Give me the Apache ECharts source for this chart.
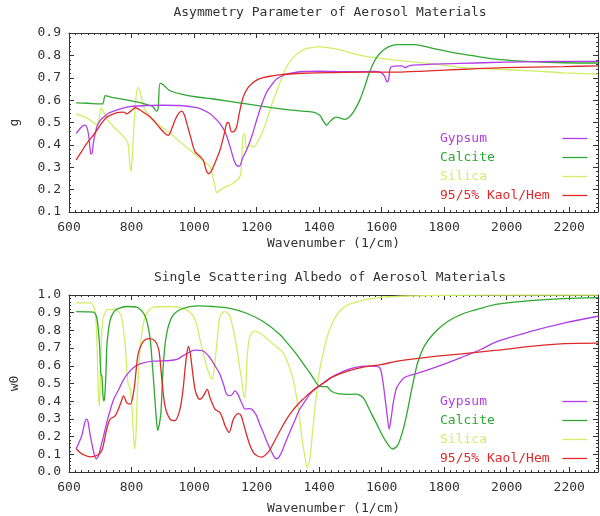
<!DOCTYPE html>
<html><head><meta charset="utf-8">
<script src="https://cdn.jsdelivr.net/npm/echarts@6/dist/echarts.min.js"></script>
<style>html,body{margin:0;padding:0;background:#fff}#c{width:600px;height:516px}</style>
</head><body><div id="c"></div>
<script>
// ---------- DATA ----------
const seriesNames = ['Gypsum', 'Calcite', 'Silica', '95/5% Kaol/Hem'];
const xTickLabels = [600, 800, 1000, 1200, 1400, 1600, 1800, 2000, 2200];
const gTickLabels = [0.1, 0.2, 0.3, 0.4, 0.5, 0.6, 0.7, 0.8, 0.9];
const wTickLabels = [0.0, 0.1, 0.2, 0.3, 0.4, 0.5, 0.6, 0.7, 0.8, 0.9, 1.0];

// Asymmetry parameter g
const gypsumG_x = [623,640,650,658,664,669,673,678,689,700,711,725,743,770,796,849,900,955,1009,1030,1051,1070,1083,1100,1115,1128,1136,1145,1155,1168,1185,1200,1215,1232,1250,1264,1285,1306,1349,1400,1445,1500,1577,1600,1610,1617,1622,1628,1640,1665,1675,1685,1700,1800,1900,2000,2100,2200,2292];
const gypsumG_y = [0.451,0.48,0.488,0.475,0.43,0.362,0.36,0.41,0.48,0.51,0.524,0.54,0.551,0.563,0.571,0.576,0.577,0.576,0.566,0.555,0.539,0.515,0.495,0.455,0.392,0.33,0.308,0.305,0.34,0.377,0.44,0.51,0.575,0.635,0.672,0.694,0.71,0.719,0.728,0.729,0.728,0.727,0.728,0.722,0.705,0.682,0.69,0.745,0.752,0.753,0.745,0.752,0.756,0.762,0.766,0.77,0.772,0.773,0.773];

const calciteG_x = [623,660,700,708,716,730,760,796,830,860,870,880,885,891,900,923,966,1010,1062,1120,1168,1220,1275,1330,1381,1402,1412,1424,1435,1454,1468,1481,1497,1513,1530,1545,1560,1577,1592,1608,1630,1651,1704,1757,1810,1864,1920,1970,2077,2183,2292];
const calciteG_y = [0.588,0.586,0.583,0.583,0.62,0.615,0.607,0.598,0.588,0.576,0.568,0.55,0.56,0.675,0.67,0.642,0.625,0.614,0.605,0.593,0.583,0.572,0.561,0.553,0.546,0.532,0.51,0.488,0.505,0.524,0.52,0.514,0.525,0.554,0.6,0.657,0.72,0.775,0.805,0.826,0.842,0.848,0.848,0.834,0.818,0.804,0.792,0.782,0.772,0.767,0.766];

const silicaG_x = [623,650,668,689,697,703,710,721,743,775,788,793,798,803,809,815,820,826,835,844,870,920,980,1030,1051,1062,1074,1085,1100,1126,1147,1152,1157,1162,1168,1179,1190,1200,1221,1237,1253,1270,1285,1300,1317,1335,1349,1370,1400,1445,1545,1651,1757,1864,1970,2077,2183,2292];
const silicaG_y = [0.539,0.525,0.51,0.49,0.52,0.566,0.55,0.517,0.48,0.436,0.41,0.34,0.28,0.36,0.52,0.62,0.657,0.645,0.59,0.554,0.51,0.455,0.385,0.327,0.303,0.245,0.186,0.2,0.212,0.23,0.26,0.33,0.443,0.45,0.385,0.399,0.39,0.405,0.465,0.53,0.598,0.66,0.716,0.758,0.79,0.812,0.826,0.834,0.838,0.831,0.797,0.778,0.763,0.745,0.738,0.731,0.722,0.716];

const kaolG_x = [623,640,657,673,689,705,721,743,760,775,785,798,812,825,838,855,870,885,902,918,928,939,950,961,970,977,990,1003,1019,1030,1038,1046,1054,1062,1083,1095,1104,1110,1120,1128,1136,1146,1157,1172,1189,1205,1221,1250,1275,1328,1445,1550,1650,1736,1864,1991,2183,2292];
const kaolG_y = [0.333,0.37,0.407,0.435,0.465,0.498,0.524,0.539,0.545,0.546,0.539,0.552,0.566,0.558,0.546,0.53,0.51,0.485,0.458,0.443,0.47,0.51,0.54,0.551,0.53,0.495,0.43,0.37,0.348,0.33,0.29,0.271,0.28,0.303,0.377,0.44,0.495,0.5,0.458,0.46,0.48,0.55,0.613,0.655,0.679,0.693,0.701,0.708,0.713,0.719,0.723,0.725,0.725,0.73,0.738,0.745,0.75,0.753];

// Single scattering albedo w0
const gypsumW_x = [623,641,648,655,660,668,679,687,694,700,710,721,732,743,760,775,790,806,820,838,870,923,945,960,977,1003,1030,1051,1067,1083,1095,1104,1112,1120,1131,1140,1147,1155,1163,1175,1184,1192,1200,1210,1221,1232,1243,1252,1262,1272,1280,1292,1306,1322,1338,1355,1370,1385,1402,1420,1438,1460,1491,1520,1545,1580,1594,1603,1610,1617,1624,1630,1637,1645,1651,1672,1700,1736,1811,1864,1917,1970,2077,2183,2292];
const gypsumW_y = [0.131,0.206,0.26,0.299,0.29,0.206,0.112,0.075,0.09,0.131,0.2,0.28,0.35,0.411,0.47,0.523,0.56,0.589,0.605,0.617,0.626,0.63,0.636,0.652,0.669,0.688,0.682,0.645,0.6,0.551,0.49,0.439,0.432,0.434,0.458,0.44,0.411,0.38,0.355,0.358,0.355,0.34,0.318,0.27,0.224,0.175,0.131,0.1,0.075,0.085,0.112,0.165,0.224,0.29,0.355,0.4,0.439,0.465,0.486,0.512,0.533,0.555,0.579,0.592,0.598,0.597,0.59,0.523,0.43,0.33,0.243,0.3,0.39,0.46,0.486,0.533,0.55,0.57,0.617,0.654,0.692,0.738,0.794,0.841,0.88];

const calciteW_x = [623,660,679,689,695,698,702,705,708,711,714,718,721,726,732,742,753,785,817,835,844,852,860,866,872,878,884,889,894,898,902,908,915,925,934,950,966,1009,1062,1115,1168,1221,1275,1300,1328,1350,1370,1385,1397,1410,1424,1438,1460,1502,1520,1534,1545,1555,1570,1587,1603,1619,1635,1651,1662,1672,1683,1694,1705,1715,1736,1768,1811,1864,1917,1970,2077,2183,2292];
const calciteW_y = [0.906,0.905,0.903,0.87,0.78,0.71,0.55,0.545,0.45,0.402,0.42,0.55,0.71,0.8,0.86,0.9,0.92,0.935,0.931,0.905,0.879,0.83,0.748,0.62,0.48,0.33,0.234,0.27,0.336,0.48,0.617,0.73,0.804,0.86,0.888,0.912,0.925,0.938,0.935,0.925,0.897,0.85,0.776,0.725,0.664,0.61,0.561,0.52,0.49,0.482,0.482,0.458,0.443,0.439,0.44,0.43,0.41,0.374,0.32,0.262,0.205,0.159,0.13,0.15,0.2,0.262,0.35,0.449,0.54,0.617,0.71,0.785,0.85,0.897,0.925,0.948,0.968,0.979,0.985];

const silicaW_x = [623,668,680,686,690,694,697,700,704,708,715,721,743,760,770,780,786,790,795,800,805,810,814,817,822,828,836,844,856,870,923,966,985,998,1010,1019,1030,1040,1050,1058,1064,1072,1078,1083,1091,1099,1108,1115,1126,1136,1145,1152,1158,1162,1166,1170,1176,1184,1195,1215,1243,1265,1285,1300,1317,1328,1338,1346,1354,1362,1370,1375,1382,1391,1400,1413,1425,1438,1460,1491,1545,1598,1700,1800,2060,2292];
const silicaW_y = [0.955,0.955,0.93,0.86,0.7,0.45,0.37,0.5,0.75,0.86,0.9,0.916,0.92,0.905,0.86,0.71,0.55,0.49,0.48,0.4,0.25,0.131,0.2,0.374,0.55,0.71,0.82,0.879,0.915,0.93,0.935,0.925,0.905,0.879,0.82,0.748,0.67,0.598,0.545,0.525,0.58,0.71,0.82,0.879,0.9,0.906,0.895,0.879,0.8,0.71,0.6,0.523,0.44,0.42,0.5,0.65,0.75,0.785,0.796,0.78,0.738,0.705,0.673,0.615,0.523,0.42,0.299,0.18,0.093,0.025,0.07,0.15,0.28,0.43,0.56,0.673,0.76,0.822,0.897,0.944,0.972,0.987,0.995,0.998,1.0,1.0];

const kaolW_x = [623,635,647,668,689,705,716,725,732,748,764,775,785,796,808,815,822,838,857,876,887,893,897,907,923,939,955,965,971,977,982,988,993,1003,1012,1019,1030,1042,1051,1060,1067,1075,1083,1092,1099,1112,1126,1142,1150,1157,1168,1179,1190,1200,1216,1237,1250,1264,1280,1296,1312,1328,1345,1360,1392,1424,1438,1491,1545,1598,1651,1757,1864,1970,2077,2183,2292];
const kaolW_y = [0.131,0.11,0.097,0.086,0.093,0.121,0.206,0.27,0.299,0.318,0.383,0.43,0.39,0.383,0.467,0.58,0.673,0.738,0.753,0.738,0.692,0.6,0.523,0.374,0.299,0.29,0.355,0.47,0.579,0.67,0.71,0.67,0.598,0.467,0.42,0.411,0.43,0.467,0.42,0.38,0.355,0.345,0.336,0.3,0.262,0.224,0.299,0.33,0.32,0.28,0.21,0.15,0.11,0.093,0.084,0.112,0.15,0.196,0.25,0.299,0.34,0.374,0.405,0.43,0.477,0.514,0.533,0.57,0.594,0.607,0.626,0.65,0.669,0.688,0.71,0.725,0.728];

// ---------- CHART ----------
const colors = ['#b23fe6', '#2ea82e', '#d2ee68', '#de2a2a'];
const FONT = '"DejaVu Sans Mono", "Liberation Mono", monospace';
const zip = (xs, ys) => xs.map((x, i) => [x, ys[i]]);

const XMIN = xTickLabels[0], XMAX = 2292;

function xAxisDef(grid, pos, nameGap) {
  const main = pos === 'bottom';
  return {
    type: 'value', gridIndex: grid, position: pos, min: XMIN, max: XMAX, interval: 200,
    name: main ? 'Wavenumber (1/cm)' : '', nameLocation: 'middle', nameGap: nameGap,
    nameTextStyle: { fontFamily: FONT, fontSize: 13, color: '#333' },
    axisLine: { show: true, onZero: false, lineStyle: { color: '#333', width: 1 } },
    axisTick: { show: true, inside: true, length: 5, lineStyle: { color: '#333' } },
    minorTick: { show: true, splitNumber: 10, length: 2, lineStyle: { color: '#333' } },
    axisLabel: { show: main, margin: 9, showMaxLabel: false, fontFamily: FONT, fontSize: 13, color: '#333',
      formatter: v => xTickLabels.includes(v) ? String(v) : '' },
    splitLine: { show: false }, minorSplitLine: { show: false }
  };
}
function yAxisDef(grid, pos, min, max, name) {
  const main = pos === 'left';
  return {
    type: 'value', gridIndex: grid, position: pos, min: min, max: max, interval: 0.1,
    name: main ? name : '', nameLocation: 'middle', nameRotate: 90, nameGap: 48,
    nameTextStyle: { fontFamily: FONT, fontSize: 13, color: '#333' },
    axisLine: { show: true, onZero: false, lineStyle: { color: '#333', width: 1 } },
    axisTick: { show: true, inside: true, length: 5, lineStyle: { color: '#333' } },
    minorTick: { show: true, splitNumber: 5, length: 2, lineStyle: { color: '#333' } },
    axisLabel: { show: main, margin: 8, fontFamily: FONT, fontSize: 13, color: '#333',
      formatter: v => v.toFixed(1) },
    splitLine: { show: false }, minorSplitLine: { show: false }
  };
}

const topData = [zip(gypsumG_x, gypsumG_y), zip(calciteG_x, calciteG_y), zip(silicaG_x, silicaG_y), zip(kaolG_x, kaolG_y)];
const botData = [zip(gypsumW_x, gypsumW_y), zip(calciteW_x, calciteW_y), zip(silicaW_x, silicaW_y), zip(kaolW_x, kaolW_y)];

const series = [];
const order = [2, 1, 0, 3];
order.forEach(i => {
  series.push({ type: 'line', name: seriesNames[i], xAxisIndex: 0, yAxisIndex: 0, data: topData[i],
    symbol: 'none', smooth: 0.3, lineStyle: { width: 1.3, color: colors[i] }, itemStyle: { color: colors[i] }, z: 3 });
});
order.forEach(i => {
  series.push({ type: 'line', name: seriesNames[i], xAxisIndex: 2, yAxisIndex: 2, data: botData[i],
    symbol: 'none', smooth: 0.3, lineStyle: { width: 1.3, color: colors[i] }, itemStyle: { color: colors[i] }, z: 3 });
});

function legendDef(top) {
  return {
    orient: 'vertical', left: 440, top: top, align: 'right', selectedMode: false,
    itemWidth: 25, itemHeight: 14, itemGap: 6, padding: 0,
    itemStyle: { opacity: 0 },
    lineStyle: { width: 1.3 },
    textStyle: { fontFamily: FONT, fontSize: 13 },
    formatter: n => n.padEnd(15, ' '),
    data: seriesNames.map((n, i) => ({ name: n, textStyle: { color: colors[i] } }))
  };
}

const option = {
  animation: false,
  backgroundColor: '#fff',
  title: [
    { text: 'Asymmetry Parameter of Aerosol Materials', left: 330, top: 6, textAlign: 'center', padding: 0,
      textStyle: { fontFamily: FONT, fontSize: 13, fontWeight: 'normal', color: '#333' } },
    { text: 'Single Scattering Albedo of Aerosol Materials', left: 330, top: 271, textAlign: 'center', padding: 0,
      textStyle: { fontFamily: FONT, fontSize: 13, fontWeight: 'normal', color: '#333' } }
  ],
  legend: [legendDef(132), legendDef(395)],
  grid: [
    { left: 63, right: 2, top: 33, height: 179, containLabel: false },
    { left: 63, right: 2, top: 295, height: 178.5, containLabel: false }
  ],
  xAxis: [xAxisDef(0, 'bottom', 25), xAxisDef(0, 'top', 0), xAxisDef(1, 'bottom', 30), xAxisDef(1, 'top', 0)],
  yAxis: [yAxisDef(0, 'left', 0.1, 0.9, 'g'), yAxisDef(0, 'right', 0.1, 0.9, ''),
          yAxisDef(1, 'left', 0, 1, 'w0'), yAxisDef(1, 'right', 0, 1, '')],
  series: series
};

const chart = echarts.init(document.getElementById('c'), null, { renderer: 'canvas' });
chart.setOption(option);
</script>
</body></html>
